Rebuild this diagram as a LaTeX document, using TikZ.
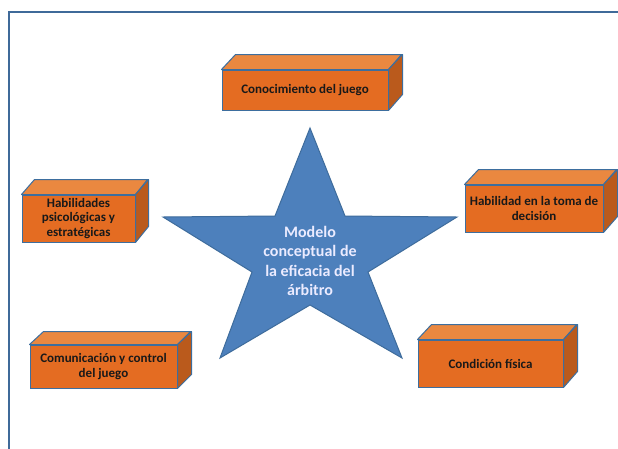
\documentclass[tikz,border=0pt]{standalone}
\usepackage{fontspec}
\setmainfont{Carlito}
\definecolor{frontc}{HTML}{E46C22}
\definecolor{topc}{HTML}{EA8840}
\definecolor{sidec}{HTML}{BA5A1C}
\definecolor{edgec}{HTML}{3D6E9E}
\definecolor{starc}{HTML}{4D80BC}
\definecolor{staredge}{HTML}{3E6C9C}
\definecolor{framec}{HTML}{3F6A99}
\tikzset{
  boxfront/.style={draw=edgec, line width=1pt, fill=frontc, align=center, inner sep=0pt,
    font=\bfseries\fontsize{13}{14.8}\selectfont, text=black!90},
  boxtop/.style={draw=edgec, line width=1pt, fill=topc, line join=round},
  boxside/.style={draw=edgec, line width=1pt, fill=sidec, line join=round},
}
\newcommand\mycuboid[7]{%
  \node[boxfront, minimum width=#3pt, minimum height=#4pt] (#1) at (#2) {#7};
  \draw[boxtop] (#1.north west) -- ++(#5,-#6) -- ++(#3,0) -- (#1.north east) -- cycle;
  \draw[boxside] (#1.north east) -- ++(#5,-#6) -- ++(0,#4) -- (#1.south east) -- cycle;
}
\begin{document}
\begin{tikzpicture}[x=1pt,y=-1pt]
\useasboundingbox (0,0) rectangle (618,448);
\fill[white] (0,0) rectangle (618,448);
\draw[framec, line width=1.5pt] (9,450) -- (9,12) -- (620,12);
% star
\draw[fill=starc, draw=staredge, line width=1pt, line join=miter]
  (310,128) -- (345,216) -- (457,217) -- (368,272) -- (402,358) -- (310,305)
  -- (220,358) -- (252,272) -- (163,217) -- (275,216) -- cycle;
\node[align=center, text=white!92!blue, font=\bfseries\fontsize{16}{19.5}\selectfont] (center) at (310,261)
  {Modelo\\conceptual de\\la eficacia del\\árbitro};
% boxes
\mycuboid{b1}{305,90}{166}{40}{14}{15}{Conocimiento del juego}
\mycuboid{b2}{78.5,218.5}{113}{47}{13}{15}{Habilidades\\psicológicas y\\estratégicas}
\mycuboid{b3}{534,208.5}{138}{47}{14}{15}{Habilidad en la toma de\\decisión}
\mycuboid{b4}{103.5,366.5}{147}{43}{14}{13}{Comunicación y control\\del juego}
\mycuboid{b5}{490.5,363.5}{145}{47}{14}{15}{Condición física}
\end{tikzpicture}
\end{document}
